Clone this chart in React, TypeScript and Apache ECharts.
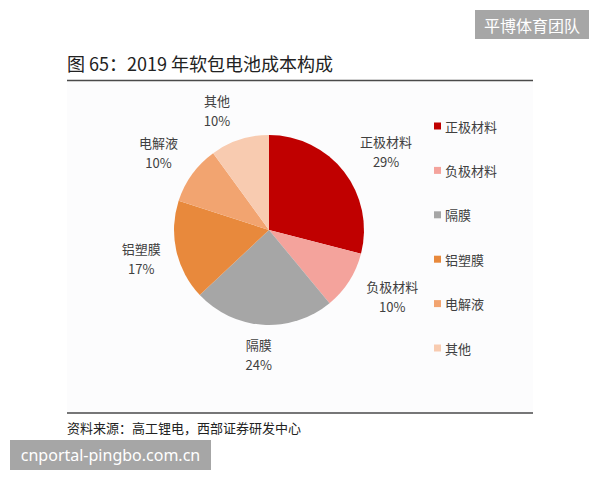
import React, { useEffect, useRef } from "react";
import * as echarts from "echarts";

const categories = ["正极材料", "负极材料", "隔膜", "铝塑膜", "电解液", "其他"];
const shares = [29, 10, 24, 17, 10, 10];
const sliceColors = ["#C00000", "#F4A39C", "#A6A6A6", "#E8893C", "#F2A470", "#F8CBB0"];
// small per-label nudges (layout only)
const labelNudge: [number, number][] = [[12, 3], [11, -5], [-2, -8], [2, -1], [-3, 1], [-11, 7]];

const titleText = "图 65：2019 年软包电池成本构成";
const sourceText = "资料来源：高工锂电，西部证券研发中心";
const badgeTop = "平博体育团队";
const badgeBottom = "cnportal-pingbo.com.cn";

const CJK = "'Noto Sans CJK SC', 'Noto Sans', sans-serif";

export default function App() {
  const ref = useRef<HTMLDivElement>(null);
  useEffect(() => {
    document.body.style.margin = "0";
    if (!ref.current) return;
    const chart = echarts.init(ref.current, undefined, { renderer: "svg" });
    const data = categories.map((name, i) => ({
      name,
      value: shares[i],
      itemStyle: { color: sliceColors[i] },
    }));
    const labelData = categories.map((name, i) => ({
      name,
      value: shares[i],
      label: { offset: labelNudge[i] },
    }));
    chart.setOption({
      animation: false,
      backgroundColor: "#ffffff",
      legend: {
        orient: "vertical",
        left: 434,
        top: 119,
        padding: 0,
        itemWidth: 7,
        itemHeight: 7,
        itemGap: 30.4,
        icon: "rect",
        data: categories,
        selectedMode: false,
        textStyle: { fontSize: 13, color: "#404040", fontFamily: CJK, padding: [0, 0, 0, -1], lineHeight: 14 },
      },
      graphic: [
        { type: "rect", silent: true, z: -10, shape: { x: 67, y: 81, width: 466, height: 332 }, style: { fill: "#fcfcfd" } },
        { type: "line", shape: { x1: 67, y1: 80.5, x2: 533, y2: 80.5 }, style: { stroke: "#4a4a4a", lineWidth: 1.5 } },
        { type: "line", shape: { x1: 67, y1: 413, x2: 533, y2: 413 }, style: { stroke: "#4a4a4a", lineWidth: 1.5 } },
        { type: "text", x: 67, y: 63, style: { text: titleText, fontSize: 18, fill: "#222222", fontFamily: CJK, verticalAlign: "middle" } },
        { type: "text", x: 67, y: 427, style: { text: sourceText, fontSize: 13, fill: "#222222", fontFamily: CJK, verticalAlign: "middle" } },
        { type: "rect", shape: { x: 475, y: 10, width: 114, height: 29 }, style: { fill: "#A6A6A6" } },
        { type: "text", x: 532, y: 24.5, style: { text: badgeTop, fontSize: 16, fill: "#ffffff", fontFamily: CJK, align: "center", verticalAlign: "middle" } },
        { type: "rect", shape: { x: 10, y: 440, width: 201, height: 30 }, style: { fill: "#A6A6A6" } },
        { type: "text", x: 110.5, y: 455, style: { text: badgeBottom, fontSize: 16, fill: "#ffffff", fontFamily: "'Noto Sans', sans-serif", align: "center", verticalAlign: "middle" } },
      ],
      series: [
        {
          type: "pie",
          center: [269, 230],
          radius: [0, 95],
          startAngle: 90,
          clockwise: true,
          silent: true,
          label: { show: false },
          labelLine: { show: false },
          itemStyle: { borderWidth: 0 },
          data,
        },
        {
          type: "pie",
          center: [269, 230],
          radius: [125, 135],
          startAngle: 90,
          clockwise: true,
          silent: true,
          legendHoverLink: false,
          itemStyle: { color: "rgba(0,0,0,0)" },
          labelLine: { show: false },
          label: {
            show: true,
            position: "inside",
            formatter: (p: any) => `${p.name}\n${p.value}%`,
            fontSize: 13,
            lineHeight: 20,
            color: "#404040",
            fontFamily: CJK,
          },
          data: labelData,
        },
      ],
    });
    return () => chart.dispose();
  }, []);
  return <div ref={ref} style={{ width: 600, height: 480 }} />;
}
